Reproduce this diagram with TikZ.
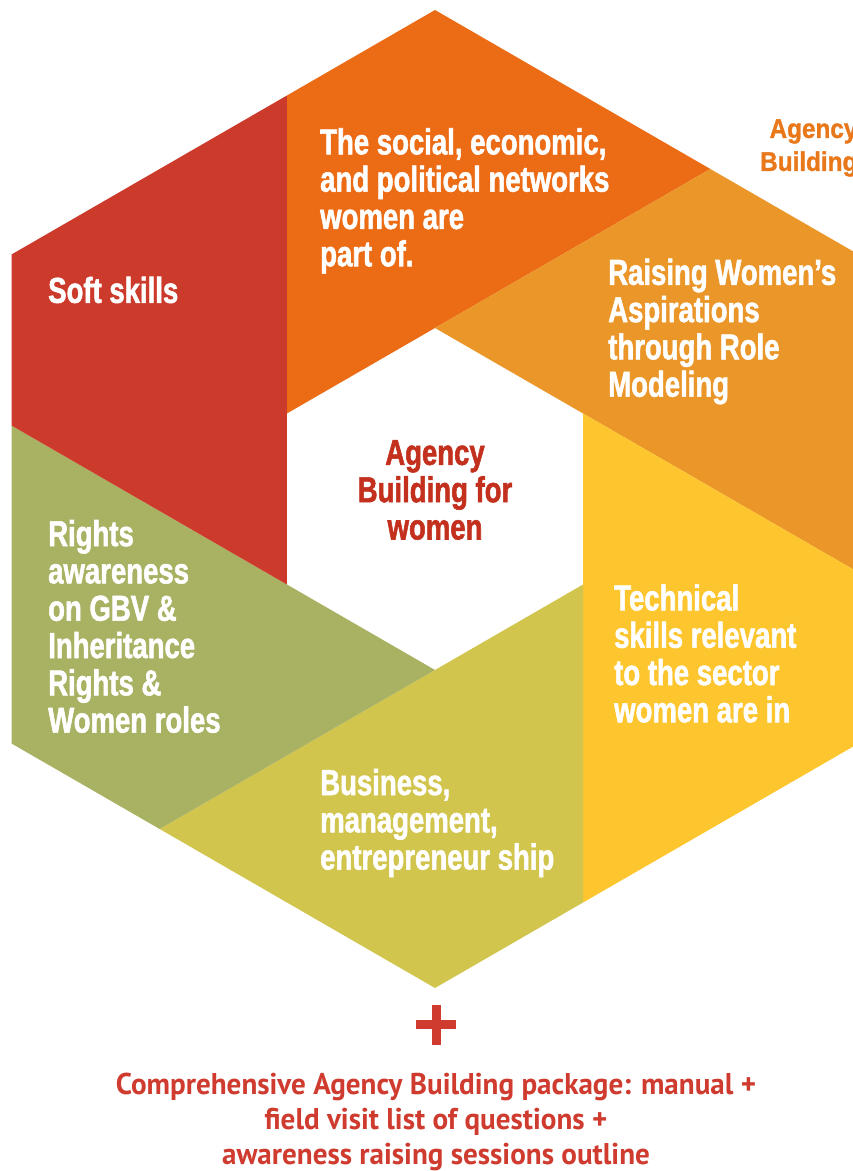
\documentclass[tikz,border=0pt]{standalone}
\usepackage{fontspec}
\setmainfont{Liberation Sans}
\newfontfamily\condfont[FakeStretch=0.765, BoldFeatures={FakeBold=1.5}]{Liberation Sans}
\newfontfamily\sidefont[FakeStretch=0.9, BoldFeatures={FakeBold=1.2}]{Liberation Sans}
\newfontfamily\pkgfont[FakeStretch=0.97]{PT Sans}

\definecolor{softred}{HTML}{CC3A2C}
\definecolor{netorange}{HTML}{EC6C16}
\definecolor{aspirorange}{HTML}{EB9629}
\definecolor{techyellow}{HTML}{FDC52E}
\definecolor{bizgreen}{HTML}{D2C54E}
\definecolor{rightsolive}{HTML}{A9B163}
\definecolor{centrered}{HTML}{C3311E}
\definecolor{sideorange}{HTML}{E9781B}
\definecolor{pkgred}{HTML}{CF3B2F}

\begin{document}
\begin{tikzpicture}[
    x=1pt, y=1pt,
    segtext/.style={anchor=west, align=left, inner sep=0pt, text=white,
        font=\condfont\bfseries\fontsize{36}{37.3}\selectfont},
    centretext/.style={align=center, inner sep=0pt, text=centrered,
        font=\condfont\bfseries\fontsize{36}{37.3}\selectfont},
    sidetext/.style={anchor=west, align=right, inner sep=0pt, text=sideorange,
        font=\sidefont\bfseries\fontsize{27}{33}\selectfont},
    pkgtext/.style={align=center, inner sep=0pt, text=pkgred,
        font=\pkgfont\bfseries\fontsize{30}{35}\selectfont},
    plusbar/.style={line width=9pt, pkgred},
]
\fill[white] (0,0) rectangle (853,1171);
\useasboundingbox (0,0) rectangle (853,1171);
\clip (0,0) rectangle (853,1171);

% centre of the hexagon
\coordinate (C) at (435,672);

% pinwheel of six segments round the white core
\begin{scope}[shift={(C)}]
\foreach \a/\col in {90/netorange, 30/aspirorange, -30/techyellow,
                     -90/bizgreen, -150/rightsolive, 150/softred} {
  \fill[\col] (\a+60:171) -- (\a+20.16:429.8) -- (\a:489)
              -- (\a-39.84:429.8) -- (\a:171) -- cycle;
}
\end{scope}

% segment labels
\node[segtext] (soft) at (48,881) {Soft skills};
\node[segtext] (networks) at (320,970)
  {The social, economic,\\and political networks\\women are\\part of.};
\node[segtext] (aspire) at (608,839.5)
  {Raising Women’s\\Aspirations\\through Role\\Modeling};
\node[segtext] (technical) at (614,517.5)
  {Technical\\skills relevant\\to the sector\\women are in};
\node[segtext] (business) at (320,348)
  {Business,\\management,\\entrepreneur ship};
\node[segtext] (rights) at (48,544.5)
  {Rights\\awareness\\on GBV \&\\Inheritance\\Rights \&\\Women roles};

% core
\node[centretext] (agency) at (435,681) {Agency\\Building for\\women};

% side title, cut by the page edge
\node[sidetext] (side) at (760,1023) {Agency\\Building};

% plus sign
\coordinate (plus) at (436,146);
\draw[plusbar] ([xshift=-20pt]plus) -- ([xshift=20pt]plus);
\draw[plusbar] ([yshift=-20pt]plus) -- ([yshift=20pt]plus);

% package line
\node[pkgtext] (package) at (436,49)
  {Comprehensive Agency Building package: manual +\\field visit list of questions +\\awareness raising sessions outline};

\end{tikzpicture}
\end{document}
